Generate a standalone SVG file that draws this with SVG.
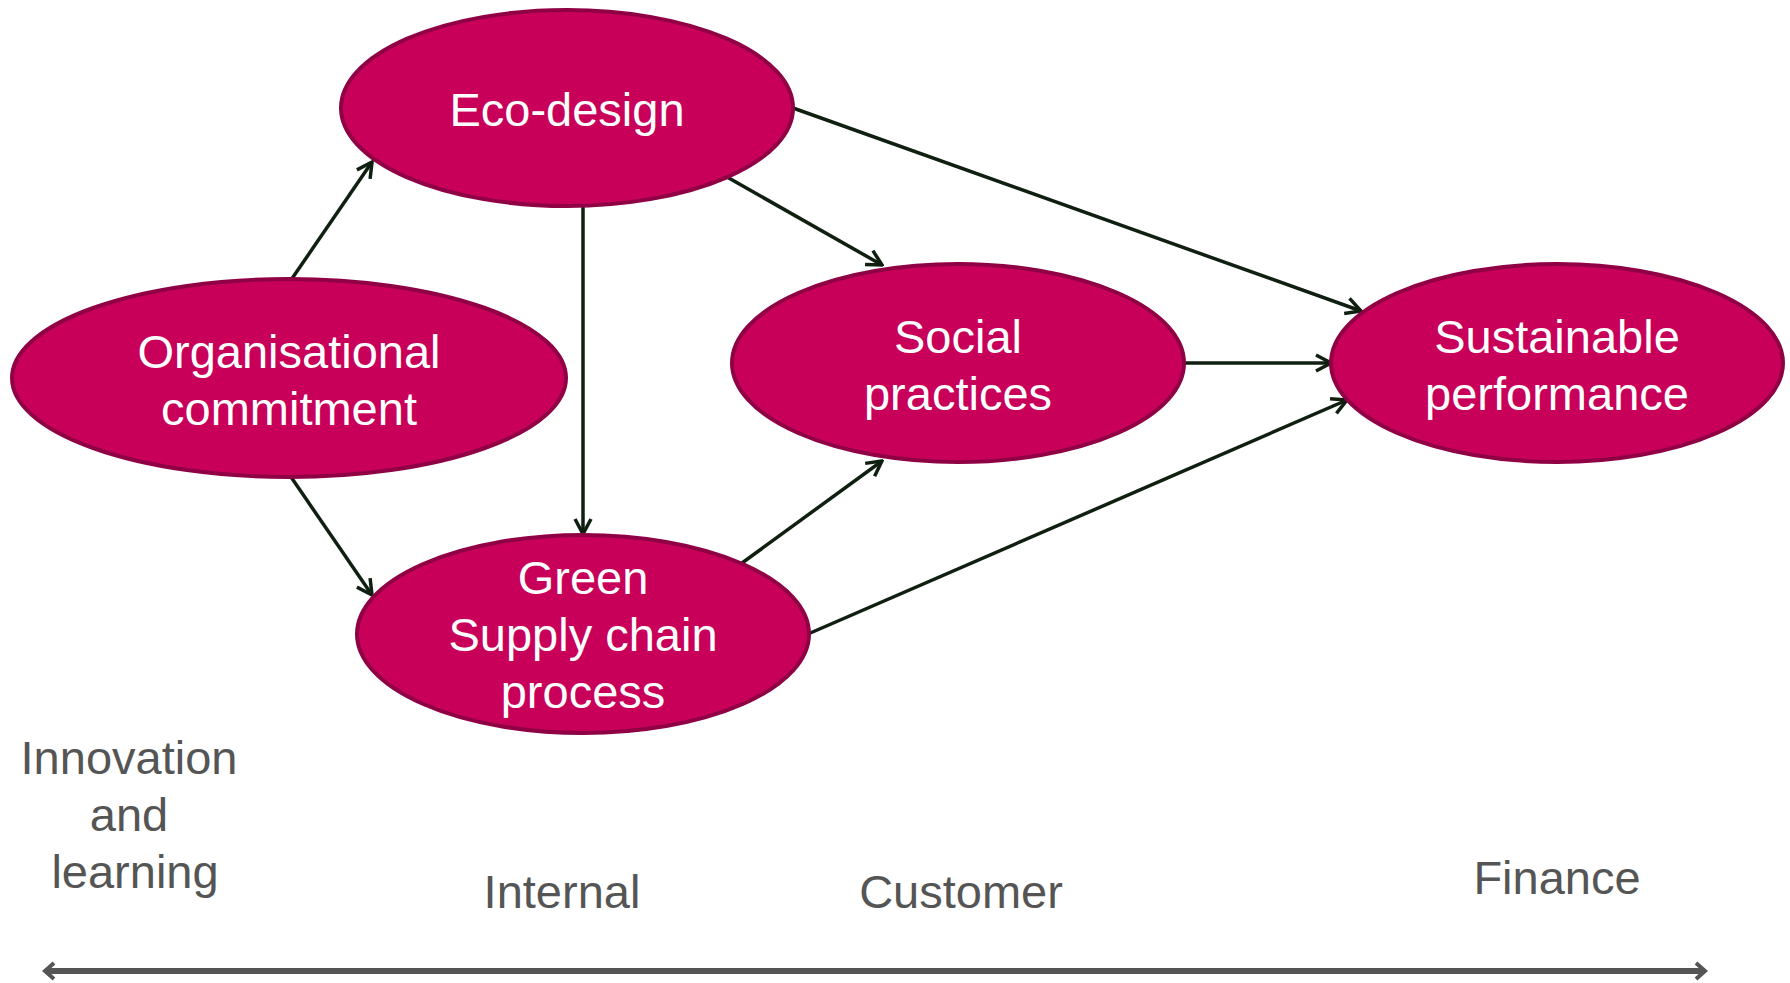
<svg xmlns="http://www.w3.org/2000/svg" width="1790" height="983" viewBox="0 0 1790 983">
<defs>
<style>
.node ellipse{fill:#c8005a;stroke:#8f0044;stroke-width:4}
.nt{font-family:"Liberation Sans",Arial,sans-serif;font-size:47px;fill:#ffffff;text-anchor:middle}
.lt{font-family:"Liberation Sans",Arial,sans-serif;font-size:47px;fill:#555555;text-anchor:middle}
.conn line{stroke:#0f1f10;stroke-width:3.5;fill:none}
</style>
<marker id="ah" viewBox="0 0 20 20" refX="18" refY="10" markerWidth="20" markerHeight="20" markerUnits="userSpaceOnUse" orient="auto">
<path d="M3,2 L18,10 L3,18" fill="none" stroke="#0f1f10" stroke-width="3.5"/>
</marker>
<marker id="gh" viewBox="0 0 20 20" refX="17" refY="10" markerWidth="20" markerHeight="20" markerUnits="userSpaceOnUse" orient="auto-start-reverse">
<path d="M8,2 L17,10 L8,18" fill="none" stroke="#555555" stroke-width="4"/>
</marker>
</defs>
<rect width="1790" height="983" fill="#ffffff"/>
<g class="conn">
<line x1="291" y1="280" x2="372" y2="162" marker-end="url(#ah)"/>
<line x1="291" y1="477" x2="372" y2="595" marker-end="url(#ah)"/>
<line x1="583" y1="207" x2="583" y2="534" marker-end="url(#ah)"/>
<line x1="727" y1="177" x2="882" y2="265" marker-end="url(#ah)"/>
<line x1="793" y1="108" x2="1361" y2="311" marker-end="url(#ah)"/>
<line x1="1184" y1="363" x2="1331" y2="363" marker-end="url(#ah)"/>
<line x1="742" y1="563" x2="882" y2="461" marker-end="url(#ah)"/>
<line x1="808" y1="634" x2="1347" y2="400" marker-end="url(#ah)"/>
</g>
<g id="eco-design" class="node">
<ellipse cx="567" cy="108" rx="226" ry="98"/>
<text class="nt" x="567" y="126">Eco-design</text>
</g>
<g id="organisational-commitment" class="node">
<ellipse cx="289" cy="378" rx="277" ry="99"/>
<text class="nt" x="289" y="368">Organisational</text>
<text class="nt" x="289" y="425">commitment</text>
</g>
<g id="social-practices" class="node">
<ellipse cx="958" cy="363" rx="226" ry="99"/>
<text class="nt" x="958" y="353">Social</text>
<text class="nt" x="958" y="410">practices</text>
</g>
<g id="sustainable-performance" class="node">
<ellipse cx="1557" cy="363" rx="226" ry="99"/>
<text class="nt" x="1557" y="353">Sustainable</text>
<text class="nt" x="1557" y="410">performance</text>
</g>
<g id="green-supply-chain" class="node">
<ellipse cx="583" cy="634" rx="226" ry="99"/>
<text class="nt" x="583" y="594">Green</text>
<text class="nt" x="583" y="651">Supply chain</text>
<text class="nt" x="583" y="708">process</text>
</g>
<g id="labels">
<text class="lt" x="129" y="774">Innovation</text>
<text class="lt" x="129" y="831">and</text>
<text class="lt" x="135" y="888">learning</text>
<text class="lt" x="562" y="908">Internal</text>
<text class="lt" x="961" y="908">Customer</text>
<text class="lt" x="1557" y="894">Finance</text>
</g>
<g id="axis">
<line x1="45" y1="971" x2="1705" y2="971" stroke="#555555" stroke-width="6" marker-start="url(#gh)" marker-end="url(#gh)"/>
</g>
</svg>
